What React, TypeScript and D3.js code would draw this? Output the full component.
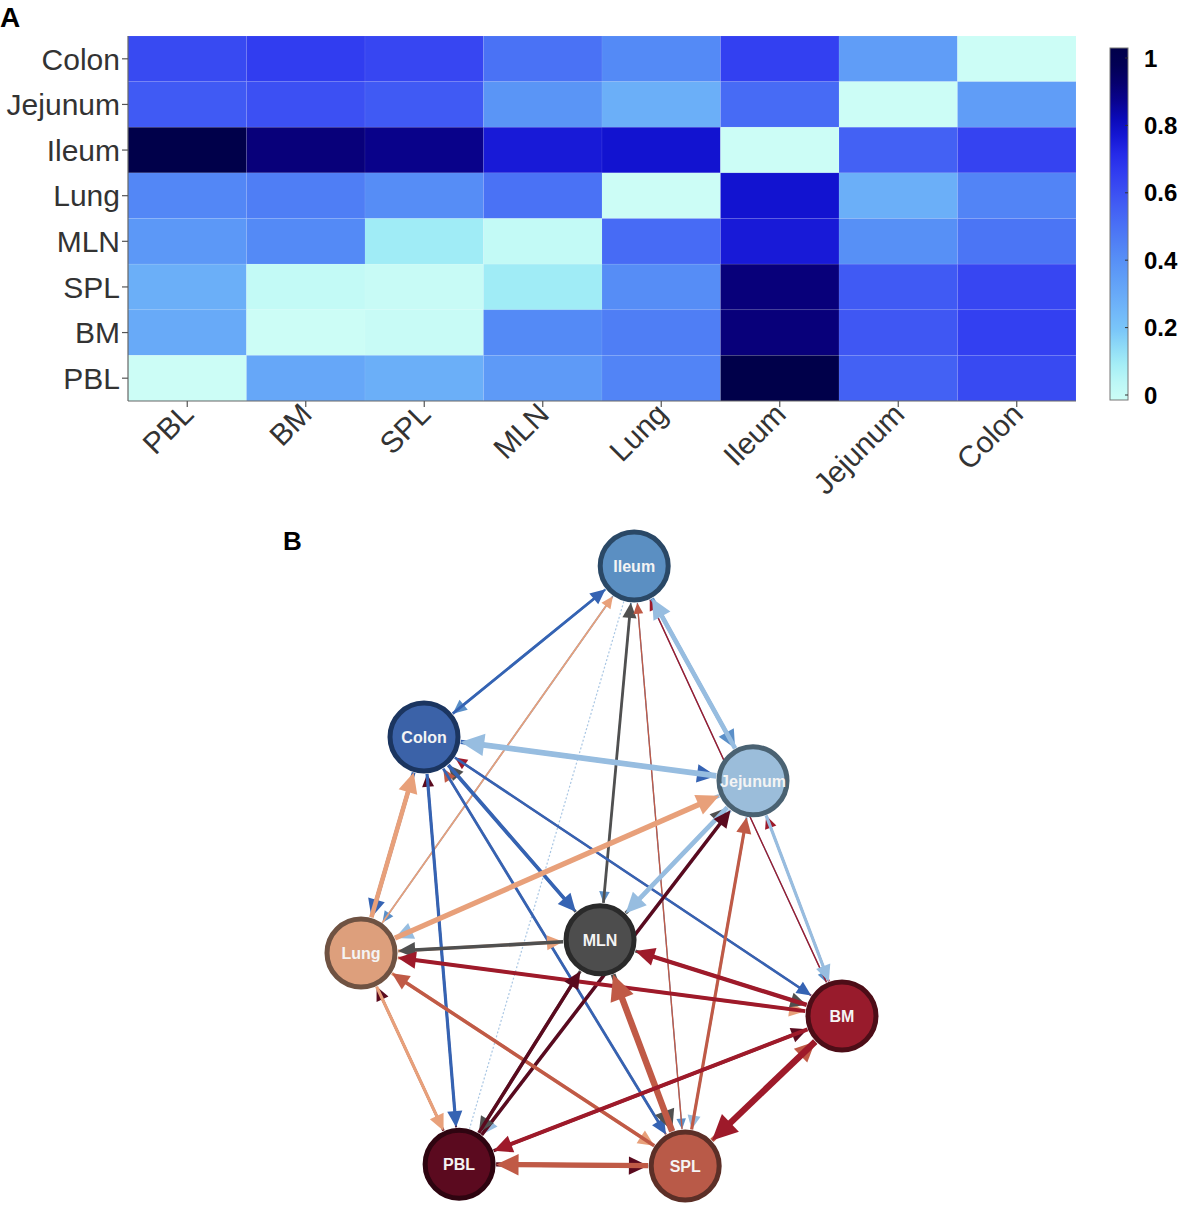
import React from 'react';
import * as d3 from 'd3';

// ---- heatmap data ----
const rowLabels = ['Colon', 'Jejunum', 'Ileum', 'Lung', 'MLN', 'SPL', 'BM', 'PBL'];
const colLabels = ['PBL', 'BM', 'SPL', 'MLN', 'Lung', 'Ileum', 'Jejunum', 'Colon'];
const heatValues: number[][] = [
  [0.62, 0.66, 0.63, 0.5, 0.42, 0.65, 0.35, 0.0],
  [0.57, 0.6, 0.57, 0.38, 0.28, 0.52, 0.0, 0.35],
  [1.0, 0.9, 0.88, 0.76, 0.78, 0.0, 0.55, 0.64],
  [0.43, 0.46, 0.41, 0.5, 0.0, 0.78, 0.28, 0.44],
  [0.37, 0.42, 0.1, 0.02, 0.52, 0.76, 0.4, 0.49],
  [0.28, 0.02, 0.01, 0.1, 0.41, 0.9, 0.57, 0.63],
  [0.3, 0.0, 0.01, 0.42, 0.46, 0.9, 0.58, 0.65],
  [0.0, 0.31, 0.28, 0.36, 0.44, 1.0, 0.55, 0.62],
];
const colorStops = [0, 0.1, 0.2, 0.3, 0.4, 0.5, 0.6, 0.7, 0.8, 0.9, 1];
const colorValues = ['#ccfdf6', '#a0ecf6', '#78c4f9', '#68aaf8', '#5790f6', '#4a72f5', '#3c50f3', '#2a30ee', '#0c0cc8', '#08007a', '#00004a'];
const legendTicks = [0, 0.2, 0.4, 0.6, 0.8, 1];

// ---- network data ----
const nodeNames = ['Ileum', 'Colon', 'Jejunum', 'Lung', 'MLN', 'BM', 'PBL', 'SPL'];
const nodeX = [0.568, 0.131, 0.815, 0.0, 0.497, 1.0, 0.204, 0.674];
const nodeY = [0.0, 0.285, 0.358, 0.645, 0.623, 0.75, 0.997, 1.0];
const nodeFill = ['#5b8fc2', '#3b62a8', '#9bbdda', '#dd9f7c', '#4d4d4d', '#981b2c', '#5b0a1f', '#b95a48'];
const nodeRing = ['#2a4866', '#1b3560', '#4a6272', '#6f5242', '#2a2a2a', '#4d0d17', '#2e0410', '#5c2f27'];
const edgeColor = ['#5a8fc8', '#3563b3', '#97bde0', '#e8a07a', '#505050', '#9e1a2a', '#5a0a1e', '#c05a46'];

// [source, target, weight], listed weaker direction first in each pair
const edges: [string, string, number][] = [
  ['Ileum', 'Colon', 0.2], ['Colon', 'Ileum', 0.25],
  ['Ileum', 'Lung', 0.08], ['Lung', 'Ileum', 0.1],
  ['Ileum', 'PBL', 0.0],
  ['Ileum', 'MLN', 0.08], ['MLN', 'Ileum', 0.25],
  ['Ileum', 'SPL', 0.03], ['SPL', 'Ileum', 0.05],
  ['Ileum', 'BM', 0.03], ['BM', 'Ileum', 0.05],
  ['Ileum', 'Jejunum', 0.4], ['Jejunum', 'Ileum', 0.5],
  ['Colon', 'Jejunum', 0.45], ['Jejunum', 'Colon', 0.65],
  ['Colon', 'Lung', 0.4], ['Lung', 'Colon', 0.5],
  ['PBL', 'Colon', 0.15], ['Colon', 'PBL', 0.3],
  ['MLN', 'Colon', 0.25], ['Colon', 'MLN', 0.38],
  ['SPL', 'Colon', 0.15], ['Colon', 'SPL', 0.25],
  ['BM', 'Colon', 0.12], ['Colon', 'BM', 0.22],
  ['Jejunum', 'Lung', 0.4], ['Lung', 'Jejunum', 0.6],
  ['MLN', 'Jejunum', 0.35], ['Jejunum', 'MLN', 0.5],
  ['Jejunum', 'PBL', 0.3], ['PBL', 'Jejunum', 0.35],
  ['Jejunum', 'SPL', 0.2], ['SPL', 'Jejunum', 0.3],
  ['BM', 'Jejunum', 0.15], ['Jejunum', 'BM', 0.3],
  ['Lung', 'MLN', 0.3], ['MLN', 'Lung', 0.35],
  ['Lung', 'BM', 0.3], ['BM', 'Lung', 0.4],
  ['Lung', 'SPL', 0.3], ['SPL', 'Lung', 0.35],
  ['PBL', 'Lung', 0.2], ['Lung', 'PBL', 0.3],
  ['MLN', 'BM', 0.3], ['BM', 'MLN', 0.45],
  ['MLN', 'PBL', 0.3], ['PBL', 'MLN', 0.35],
  ['MLN', 'SPL', 0.55], ['SPL', 'MLN', 0.75],
  ['PBL', 'BM', 0.3], ['BM', 'PBL', 0.42],
  ['SPL', 'BM', 0.5], ['BM', 'SPL', 0.75],
  ['PBL', 'SPL', 0.45], ['SPL', 'PBL', 0.6],
];

const font = '"Liberation Sans", Arial, Helvetica, sans-serif';

const App: React.FC = () => {
  // heatmap scales
  const x = d3.scaleBand<string>().domain(colLabels).range([128, 1076]);
  const y = d3.scaleBand<string>().domain(rowLabels).range([36, 401]);
  const color = d3.scaleLinear<string>().domain(colorStops).range(colorValues).interpolate(d3.interpolateRgb);
  const legendY = d3.scaleLinear().domain([0, 1]).range([395, 58]);
  const barTop = 48;
  const barBottom = 400;

  // network scales
  const nx = d3.scaleLinear().domain([0, 1]).range([361, 842]);
  const ny = d3.scaleLinear().domain([0, 1]).range([566, 1166]);
  const widthScale = d3.scaleLinear().domain([0, 1]).range([1, 8.2]);
  const nodeR = 34;
  const outerR = nodeR + 3;
  const idx = (n: string) => nodeNames.indexOf(n);

  const edgeShapes = edges.map(([s, t, w], i) => {
    const si = idx(s);
    const ti = idx(t);
    const x1 = nx(nodeX[si]);
    const y1 = ny(nodeY[si]);
    const x2 = nx(nodeX[ti]);
    const y2 = ny(nodeY[ti]);
    const len = Math.hypot(x2 - x1, y2 - y1);
    const ux = (x2 - x1) / len;
    const uy = (y2 - y1) / len;
    const sw = widthScale(w);
    const headLen = 7 + 2.9 * sw;
    const headHalf = 3 + 1.45 * sw;
    const tipX = x2 - ux * outerR;
    const tipY = y2 - uy * outerR;
    const baseX = tipX - ux * headLen;
    const baseY = tipY - uy * headLen;
    const sx = x1 + ux * outerR;
    const sy = y1 + uy * outerR;
    const head = d3.path();
    head.moveTo(tipX, tipY);
    head.lineTo(baseX - uy * headHalf, baseY + ux * headHalf);
    head.lineTo(baseX + uy * headHalf, baseY - ux * headHalf);
    head.closePath();
    const dashed = w < 0.01;
    return (
      <g key={i}>
        <line
          x1={sx}
          y1={sy}
          x2={dashed ? tipX : baseX + ux * 1}
          y2={dashed ? tipY : baseY + uy * 1}
          stroke={dashed ? '#a9c6e3' : edgeColor[si]}
          strokeWidth={dashed ? 1.2 : sw}
          strokeDasharray={dashed ? '2,2' : undefined}
        />
        {!dashed && <path d={head.toString()} fill={edgeColor[si]} />}
      </g>
    );
  });

  return (
    <svg
      width={1182}
      height={1205}
      style={{ position: 'absolute', left: 0, top: 0, background: '#fff' }}
      fontFamily={font}
    >
      <defs>
        <linearGradient id="cbar" x1="0" y1="1" x2="0" y2="0">
          {d3.range(0, 1.0001, 0.05).map((p) => {
            const v = legendY.invert(barBottom - p * (barBottom - barTop));
            return <stop key={p} offset={p} stopColor={color(Math.max(0, Math.min(1, v)))} />;
          })}
        </linearGradient>
      </defs>

      {/* Panel A */}
      <text x={0} y={27} fontSize={28} fontWeight="bold" fill="#000">A</text>

      {rowLabels.map((r, ri) =>
        colLabels.map((c, ci) => (
          <rect
            key={`${r}-${c}`}
            x={x(c)}
            y={y(r)}
            width={x.bandwidth()}
            height={y.bandwidth()}
            fill={color(heatValues[ri][ci])}
            stroke="rgba(255,255,255,0.08)"
            strokeWidth={0.8}
          />
        ))
      )}

      <line x1={128} y1={36} x2={128} y2={401} stroke="#666" strokeWidth={1.2} />
      <line x1={128} y1={401} x2={1076} y2={401} stroke="#666" strokeWidth={1.2} />

      {rowLabels.map((r) => {
        const cy = (y(r) ?? 0) + y.bandwidth() / 2;
        return (
          <g key={r}>
            <line x1={122} x2={128} y1={cy} y2={cy} stroke="#555" strokeWidth={1.2} />
            <text x={120} y={cy} dy="0.36em" textAnchor="end" fontSize={30} fill="#333">{r}</text>
          </g>
        );
      })}

      {colLabels.map((c) => {
        const cx = (x(c) ?? 0) + x.bandwidth() / 2;
        return (
          <g key={c}>
            <line x1={cx} x2={cx} y1={401} y2={407} stroke="#555" strokeWidth={1.2} />
            <text
              transform={`translate(${cx + 8},${416}) rotate(-45)`}
              textAnchor="end"
              fontSize={30}
              fill="#333"
            >
              {c}
            </text>
          </g>
        );
      })}

      {/* color bar */}
      <rect x={1110} y={barTop} width={18} height={barBottom - barTop} fill="url(#cbar)" stroke="#777" strokeWidth={1} />
      {legendTicks.map((t) => (
        <g key={t}>
          <line x1={1125} x2={1128} y1={legendY(t)} y2={legendY(t)} stroke="#333" strokeWidth={1} />
          <text x={1144} y={legendY(t)} dy="0.36em" fontSize={24} fontWeight="bold" fill="#000">
            {t}
          </text>
        </g>
      ))}

      {/* Panel B */}
      <text x={283} y={550} fontSize={26} fontWeight="bold" fill="#000">B</text>

      <g>{edgeShapes}</g>

      {nodeNames.map((n, i) => (
        <g key={n} transform={`translate(${nx(nodeX[i])},${ny(nodeY[i])})`}>
          <circle r={nodeR} fill={nodeFill[i]} stroke={nodeRing[i]} strokeWidth={5} />
          <text textAnchor="middle" dy="0.36em" fontSize={16} fontWeight="bold" fill="#f4f4f4">
            {n}
          </text>
        </g>
      ))}
    </svg>
  );
};

export default App;
